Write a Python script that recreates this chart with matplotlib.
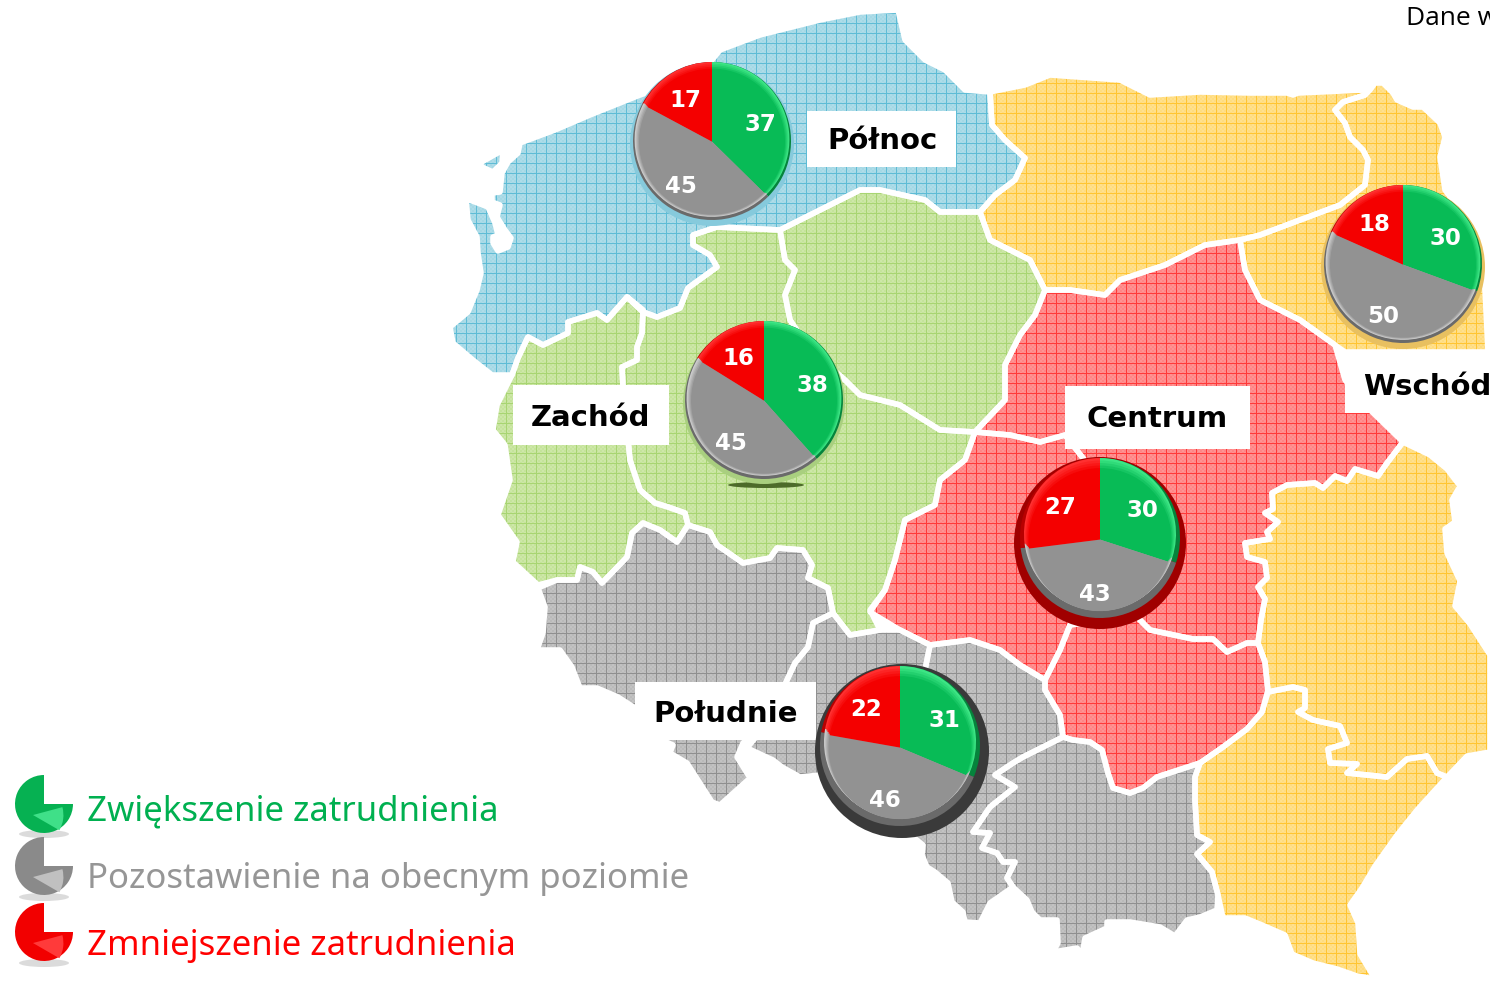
import numpy as np
import matplotlib
matplotlib.use("Agg")
import matplotlib.pyplot as plt
from matplotlib.colors import to_rgb
from matplotlib.patches import Polygon, Rectangle, Ellipse

W, H = 1490, 982

# Pie values per macro region
regions = ["Północ", "Zachód", "Centrum", "Wschód", "Południe"]
zwiekszenie = [37, 38, 30, 30, 31]
pozostawienie = [45, 45, 43, 50, 46]
zmniejszenie = [17, 16, 27, 18, 22]

legend_labels = ["Zwiększenie zatrudnienia", "Pozostawienie na obecnym poziomie", "Zmniejszenie zatrudnienia"]
legend_colors = ["#00b050", "#969696", "#ff0000"]

# Map outlines, traced in pixels of the picture
zachodniopomorskie_pomorskie = [(520,143),(555,130),(590,115),(640,95),(700,75),(720,50),(760,35),(820,20),(860,12),(898,10),(905,40),(925,60),(945,70),(965,90),(990,92),(992,125),(1005,140),(1025,158),(1015,180),(995,195),(980,212),(940,212),(925,200),(880,190),(860,190),(830,205),(780,230),(717,227),(693,235),(693,245),(710,255),(717,267),(688,288),(680,308),(657,317),(643,312),(627,297),(607,320),(597,313),(568,322),(568,333),(543,345),(528,337),(518,358),(512,375),(492,375),(473,360),(453,343),(450,327),(468,312),(477,290),(481,273),(478,253),(477,237),(468,220),(466,199),(475,202),(488,207),(495,223),(498,235),(493,237),(493,243),(498,251),(508,247),(511,238),(505,230),(497,217),(500,205),(492,202),(492,193),(500,192),(502,173),(508,162),(518,153)]
wolin = [(480,163),(503,150),(502,163),(493,172),(482,167)]
lubuskie = [(512,375),(518,358),(528,337),(543,345),(568,333),(568,322),(597,313),(607,320),(627,297),(643,310),(642,333),(637,347),(637,360),(622,367),(623,387),(630,460),(640,490),(655,503),(668,507),(685,513),(688,525),(677,542),(660,530),(643,523),(632,533),(627,557),(602,583),(593,572),(580,567),(577,580),(557,580),(538,585),(513,562),(517,542),(498,515),(510,480),(505,445),(493,430),(497,405)]
wielkopolskie = [(627,297),(643,312),(657,317),(680,308),(688,288),(717,267),(710,255),(693,245),(693,235),(717,227),(780,230),(785,260),(795,270),(785,295),(790,320),(810,350),(845,380),(860,395),(900,405),(940,430),(975,432),(965,460),(940,480),(935,505),(905,520),(895,560),(885,590),(870,610),(880,630),(850,635),(833,613),(828,588),(808,578),(812,565),(803,550),(777,548),(770,558),(743,563),(717,545),(710,532),(688,525),(685,513),(668,507),(655,503),(640,490),(630,460),(623,387),(622,367),(637,360),(637,347),(642,333),(643,310)]
kujawsko_pomorskie = [(780,230),(830,205),(860,190),(880,190),(925,200),(940,212),(980,212),(990,240),(1030,260),(1045,290),(1035,315),(1020,335),(1005,365),(1005,400),(975,432),(940,430),(900,405),(860,395),(845,380),(810,350),(790,320),(785,295),(795,270),(785,260)]
warminsko_mazurskie = [(990,92),(1025,85),(1050,75),(1120,80),(1150,95),(1200,92),(1250,93),(1287,93),(1293,95),(1298,93),(1365,90),(1365,95),(1343,102),(1335,110),(1345,123),(1350,137),(1363,150),(1368,160),(1365,185),(1340,205),(1300,220),(1260,235),(1240,240),(1205,245),(1165,265),(1120,280),(1105,295),(1070,290),(1045,290),(1030,260),(990,240),(980,212),(995,195),(1015,180),(1025,158),(1005,140),(992,125)]
podlaskie = [(1365,95),(1370,90),(1375,83),(1383,83),(1393,93),(1397,100),(1413,107),(1423,107),(1440,123),(1445,137),(1440,157),(1445,190),(1460,210),(1480,240),(1485,290),(1488,352),(1345,352),(1335,345),(1300,320),(1260,300),(1245,270),(1240,240),(1260,235),(1300,220),(1340,205),(1365,185),(1368,160),(1363,150),(1350,137),(1345,123),(1335,110),(1343,102)]
mazowieckie = [(1045,290),(1070,290),(1105,295),(1120,280),(1165,265),(1205,245),(1240,240),(1245,270),(1260,300),(1300,320),(1335,345),(1345,380),(1365,405),(1403,442),(1387,463),(1378,476),(1355,469),(1347,481),(1335,476),(1323,488),(1315,483),(1287,485),(1272,493),(1273,509),(1265,513),(1278,522),(1267,532),(1270,539),(1245,543),(1247,557),(1265,562),(1267,578),(1258,587),(1265,599),(1261,620),(1258,643),(1247,643),(1227,652),(1213,639),(1193,639),(1150,630),(1135,615),(1070,625),(1100,600),(1100,480),(1065,435),(1040,442),(1010,435),(975,432),(1005,400),(1005,365),(1020,335),(1035,315)]
lodzkie = [(975,432),(1010,435),(1040,442),(1065,435),(1100,480),(1100,600),(1070,625),(1060,650),(1045,680),(1020,665),(1000,650),(970,640),(930,645),(900,630),(870,612),(885,590),(895,560),(905,520),(935,505),(940,480),(965,460)]
swietokrzyskie = [(1070,625),(1135,615),(1150,630),(1193,639),(1213,639),(1227,652),(1247,643),(1258,643),(1265,662),(1268,690),(1262,712),(1247,729),(1223,747),(1200,763),(1157,777),(1143,788),(1130,793),(1113,788),(1108,773),(1102,750),(1090,742),(1073,740),(1063,737),(1060,715),(1045,690),(1045,680),(1060,650)]
lubelskie = [(1403,442),(1407,444),(1430,455),(1447,469),(1460,486),(1452,500),(1455,522),(1445,529),(1447,553),(1460,581),(1455,606),(1470,624),(1490,655),(1490,752),(1467,756),(1447,777),(1437,773),(1427,756),(1407,759),(1387,777),(1347,773),(1357,764),(1330,763),(1328,749),(1347,743),(1340,726),(1313,720),(1298,712),(1305,708),(1305,690),(1293,687),(1268,692),(1265,662),(1258,643),(1261,620),(1265,599),(1258,587),(1267,578),(1265,562),(1247,557),(1245,543),(1270,539),(1267,532),(1278,522),(1265,513),(1273,509),(1272,493),(1287,485),(1315,483),(1323,488),(1335,476),(1347,481),(1355,469),(1378,476),(1387,463)]
podkarpackie = [(1268,692),(1293,687),(1305,690),(1305,708),(1298,712),(1313,720),(1340,726),(1347,743),(1328,749),(1330,763),(1357,764),(1347,773),(1387,777),(1407,759),(1427,756),(1437,773),(1447,777),(1417,810),(1397,835),(1375,866),(1362,888),(1350,905),(1358,923),(1360,954),(1375,979),(1357,976),(1337,969),(1313,963),(1292,954),(1285,935),(1262,925),(1245,918),(1223,918),(1218,895),(1212,872),(1197,854),(1210,842),(1197,835),(1195,800),(1195,777),(1200,763),(1223,747),(1247,729),(1262,712)]
dolnoslaskie = [(538,588),(557,580),(577,580),(580,567),(593,572),(602,583),(627,557),(632,533),(643,523),(660,530),(677,542),(688,525),(710,532),(717,545),(743,563),(770,558),(777,548),(803,550),(812,565),(808,578),(828,588),(833,613),(813,623),(808,647),(795,663),(787,680),(770,720),(743,743),(737,757),(750,778),(720,805),(712,802),(687,763),(670,753),(673,745),(650,735),(635,708),(618,697),(597,688),(580,688),(572,667),(560,650),(537,650),(543,633),(545,607)]
opolskie = [(833,613),(850,635),(880,630),(900,630),(930,645),(925,670),(940,730),(870,815),(840,800),(820,775),(800,777),(782,767),(773,760),(747,748),(770,720),(787,680),(795,663),(808,647),(813,623)]
slaskie = [(930,645),(970,640),(1000,650),(1020,665),(1045,680),(1045,690),(1060,715),(1063,737),(1023,757),(1013,763),(995,775),(1015,787),(990,807),(973,832),(990,833),(982,848),(997,853),(1003,862),(1015,862),(1007,878),(1013,887),(990,903),(980,923),(965,922),(963,912),(952,902),(948,883),(935,872),(927,867),(922,855),(923,845),(913,837),(870,815),(940,730),(925,670)]
malopolskie = [(1063,737),(1073,740),(1090,742),(1102,750),(1108,773),(1113,788),(1130,793),(1143,788),(1157,777),(1200,763),(1195,777),(1195,800),(1197,835),(1210,842),(1197,854),(1212,872),(1218,895),(1217,910),(1200,917),(1187,920),(1175,936),(1160,927),(1130,922),(1107,922),(1107,928),(1085,938),(1082,955),(1077,948),(1053,952),(1058,943),(1057,920),(1040,920),(1032,912),(1027,900),(1013,887),(1007,878),(1015,862),(1003,862),(997,853),(982,848),(990,833),(973,832),(990,807),(1015,787),(995,775),(1013,763),(1023,757)]

# colour name for each outline
map_parts = [
    (zachodniopomorskie_pomorskie, "blue"), (wolin, "blue"), (lubuskie, "green"), (wielkopolskie, "green"),
    (kujawsko_pomorskie, "green"), (warminsko_mazurskie, "yellow"), (podlaskie, "yellow"),
    (mazowieckie, "red"), (lodzkie, "red"), (swietokrzyskie, "red"), (lubelskie, "yellow"),
    (podkarpackie, "yellow"), (dolnoslaskie, "gray"), (opolskie, "gray"), (slaskie, "gray"),
    (malopolskie, "gray"),
]

# light, dark, grid line
map_colors = {
    "blue": ("#aedce8", "#a4d8e5", "#5fbcd5"),
    "green": ("#cde7a8", "#c5e39b", "#a8d572"),
    "yellow": ("#ffe08e", "#ffdc7e", "#ffc533"),
    "red": ("#ff9292", "#ff8585", "#ff3a3a"),
    "gray": ("#c2c2c2", "#bababa", "#909090"),
}


def make_texture(light, dark, line):
    # small check pattern with a 10 px grid on top
    rgb = [np.array(to_rgb(c)) for c in (light, dark, line)]
    yy, xx = np.mgrid[0:H, 0:W]
    tex = np.where((((xx // 2) + (yy // 2)) % 2 == 0)[..., None], rgb[0], rgb[1])
    tex[(xx % 10 == 6) | (yy % 10 == 3)] = rgb[2]
    return tex


def blend(c1, c2, t):
    a, b = np.array(to_rgb(c1)), np.array(to_rgb(c2))
    return tuple(a + (b - a) * t)


fig = plt.figure(figsize=(W / 100, H / 100), dpi=100)
ax = fig.add_axes([0, 0, 1, 1])

textures = {name: make_texture(*cols) for name, cols in map_colors.items()}
for outline, color_name in map_parts:
    im = ax.imshow(textures[color_name], extent=(0, W, H, 0), interpolation="nearest", zorder=1)
    im.set_clip_path(Polygon(outline, closed=True, transform=ax.transData))
for outline, color_name in map_parts:
    ax.add_patch(Polygon(outline, closed=True, fill=False, edgecolor="white", linewidth=4, joinstyle="round", zorder=2))

ax.set_xlim(0, W)
ax.set_ylim(H, 0)
ax.axis("off")

# White name boxes
label_boxes = [(807, 111, 149, 56), (513, 385, 156, 60), (1065, 386, 185, 63), (1345, 353, 145, 60), (635, 682, 181, 58)]
label_text_x = [882, 590, 1157, 1427, 726]
label_text_y = [141, 418, 419, 387, 714]
for name, box, tx, ty in zip(regions, label_boxes, label_text_x, label_text_y):
    ax.add_patch(Rectangle((box[0], box[1]), box[2], box[3], facecolor="white", edgecolor="none", zorder=3))
    ax.text(tx, ty, name, fontsize=21, fontweight="bold", color="black", ha="center", va="center", zorder=4)

ax.text(1406, 18, "Dane w", fontsize=19, color="black", ha="left", va="center", zorder=4, family="Open Sans")

pie_x = [712, 764, 1100, 1403, 900]
pie_y = [141, 400, 538, 264, 746]
pie_r = [79, 79, 80, 79, 80]
halo_colors = ["#86cadc", "#a9cf7f", "#a00000", "#e8c060", "#3a3a3a"]
halo_dx = [0, 0, 0, 0, 2]
halo_dy = [3, 3, 5, 3, 5]
halo_extra = [3, 2, 6, 3, 7]
pie_shift = [0.02, 0.02, 0.05, 0.02, 0.05]

pie_main = ["#08bb56", "#929292", "#f40000"]
pie_edge = ["#05843c", "#6a6a6a", "#b80000"]
pie_light = ["#3de585", "#cccccc", "#ff3030"]

# dark under-shadow below the Zachód pie
ax.add_patch(Ellipse((766, 485), 76, 6, facecolor="#4d6b2a", edgecolor="none", zorder=3))


def px_axes(cx, cy, half):
    return fig.add_axes([(cx - half) / W, 1 - (cy + half) / H, 2 * half / W, 2 * half / H])


for i in range(len(regions)):
    vals = [zwiekszenie[i], pozostawienie[i], zmniejszenie[i]]
    half = pie_r[i] + 12
    pax = px_axes(pie_x[i], pie_y[i], half)
    lim = half / pie_r[i]
    s = pie_shift[i]

    pax.add_patch(Ellipse((halo_dx[i] / pie_r[i], -halo_dy[i] / pie_r[i]),
                          2 + 2 * halo_extra[i] / pie_r[i], 2 + 2 * halo_extra[i] / pie_r[i],
                          facecolor=halo_colors[i], edgecolor="none"))
    pax.pie(vals, colors=pie_edge, startangle=90, counterclock=False, radius=1.0, frame=False)
    pax.pie(vals, colors=pie_light, startangle=90, counterclock=False, radius=1.0 - s, center=(0, s), frame=False)
    # soft bevel, light to main colour
    for k in range(1, 5):
        shades = [blend(c1, c2, k / 4) for c1, c2 in zip(pie_light, pie_main)]
        wedges, _ = pax.pie(vals, colors=shades, startangle=90, counterclock=False, radius=1.0 - s - 0.014 * k,
                            center=(0, s - s * 0.35 * k), frame=False)
    for w, v in zip(wedges, vals):
        ang = np.deg2rad((w.theta1 + w.theta2) / 2)
        pax.text(0.66 * np.cos(ang), 0.66 * np.sin(ang) - 0.05, str(v), color="white", fontsize=16.5, fontweight="bold",
                 ha="center", va="center")
    pax.set_xlim(-lim, lim)
    pax.set_ylim(-lim, lim)
    pax.set_aspect("equal")
    pax.axis("off")

# Legend
legend_y = [811, 879, 946]
icon_y = [804, 866, 932]
icon_main = ["#06b152", "#8a8a8a", "#f20000"]
icon_light = ["#3fe088", "#c0c0c0", "#ff3a3a"]
icon_shadow_y = [834, 897, 963]
for label, color, ty, iy, sy, main, light in zip(legend_labels, legend_colors, legend_y, icon_y, icon_shadow_y, icon_main, icon_light):
    ax.add_patch(Ellipse((44, sy), 50, 8, facecolor="#c4c4c4", edgecolor="none", alpha=0.6, zorder=3))
    ax.text(87, ty, label, fontsize=25, color=color, ha="left", va="center", zorder=4, family="Noto Sans")
    iax = px_axes(44, iy, 33)
    # top right quarter stays empty
    iax.pie([25, 75], colors=["none", main], startangle=0, counterclock=True, radius=1.0, frame=False,
            wedgeprops={"edgecolor": "none"})
    # lighter sliver in the lower right
    iax.pie([12.5, 87.5], colors=[light, "none"], startangle=-30, counterclock=True, radius=1.05, center=(-0.38, -0.38), frame=False,
            wedgeprops={"edgecolor": "none"})
    iax.set_xlim(-33 / 29, 33 / 29)
    iax.set_ylim(-33 / 29, 33 / 29)
    iax.axis("off")

fig.savefig("out.png", dpi=100)
